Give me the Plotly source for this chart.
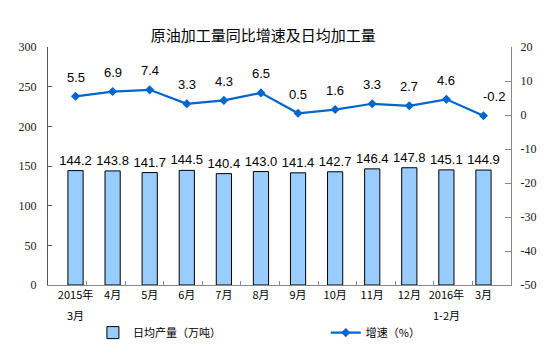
import plotly.graph_objects as go

categories = ["2015年3月", "4月", "5月", "6月", "7月", "8月", "9月", "10月", "11月", "12月", "2016年1-2月", "3月"]
tick_line1 = ["2015年", "4月", "5月", "6月", "7月", "8月", "9月", "10月", "11月", "12月", "2016年", "3月"]
tick_line2 = ["3月", "", "", "", "", "", "", "", "", "", "1-2月", ""]
output = [144.2, 143.8, 141.7, 144.5, 140.4, 143.0, 141.4, 142.7, 146.4, 147.8, 145.1, 144.9]
growth = [5.5, 6.9, 7.4, 3.3, 4.3, 6.5, 0.5, 1.6, 3.3, 2.7, 4.6, -0.2]
left_ticks = [0, 50, 100, 150, 200, 250, 300]
right_ticks = [-50, -40, -30, -20, -10, 0, 10, 20]

lab_font = dict(family="Liberation Sans, Arial", size=13, color="#000000")
tick_font = dict(family="Liberation Serif, Times New Roman", size=12, color="#1a1a1a")
cjk_font = dict(family="Noto Sans CJK SC", size=11, color="#000000")

fig = go.Figure()
fig.add_trace(go.Bar(
    x=categories, y=output, name="日均产量（万吨）",
    marker=dict(color="#99CCFF", line=dict(color="#000000", width=1)),
    width=0.41,
    text=[f"{v:.1f}" for v in output], textposition="outside", constraintext="none",
    textfont=lab_font, cliponaxis=False, legend="legend",
))
fig.add_trace(go.Scatter(
    x=categories, y=growth, name="增速（%）", yaxis="y2",
    mode="lines+markers",
    line=dict(color="#0066CC", width=2.2),
    marker=dict(symbol="diamond", size=7, color="#0066CC"),
    cliponaxis=False, legend="legend2",
))
for i, (c, v) in enumerate(zip(categories, growth)):
    fig.add_annotation(x=c, y=v, xref="x", yref="y2", text=f"{v:.1f}", showarrow=False,
                       yshift=19, xshift=11 if i == len(growth) - 1 else 0, font=lab_font)
for c, t in zip(categories, tick_line2):
    if t:
        fig.add_annotation(x=c, y=-0.126, xref="x", yref="paper", text=t, showarrow=False,
                           yanchor="middle", font=cjk_font)

fig.update_layout(
    width=554, height=353,
    margin=dict(l=48, r=43, t=47, b=68, autoexpand=False),
    paper_bgcolor="white", plot_bgcolor="white",
    title=dict(text="原油加工量同比增速及日均加工量", x=0.475, xanchor="center", y=0.9, yanchor="middle",
               font=dict(family="Noto Sans CJK SC", size=15, color="#000000")),
    showlegend=True,
    legend=dict(orientation="h", x=0.097, xanchor="left", y=-0.2, yanchor="middle",
                font=cjk_font, bgcolor="rgba(0,0,0,0)"),
    legend2=dict(orientation="h", x=0.600, xanchor="left", y=-0.2, yanchor="middle",
                 font=cjk_font, bgcolor="rgba(0,0,0,0)"),
    xaxis=dict(showline=True, linecolor="#888888", linewidth=1, mirror=False, automargin=False,
               tickvals=categories, ticktext=tick_line1,
               ticks="", tickfont=cjk_font, showgrid=False),
    yaxis=dict(range=[0, 300], tickvals=left_ticks, showline=True, linecolor="#555555", linewidth=1,
               ticks="inside", ticklen=4, tickcolor="#555555", showgrid=False, zeroline=False,
               tickfont=tick_font, automargin=False, ticklabelstandoff=8),
    yaxis2=dict(range=[-50, 20], tickvals=right_ticks, ticktext=[str(t) for t in right_ticks],
                overlaying="y", side="right",
                showline=True, linecolor="#888888", linewidth=1, automargin=False,
                ticks="inside", ticklen=6, tickcolor="#888888", showgrid=False, zeroline=False,
                tickfont=tick_font, ticklabelstandoff=6),
    xaxis2=dict(overlaying="x", range=[0, 12], tickvals=list(range(1, 12)), ticks="inside",
                ticklen=4, tickcolor="#888888", showticklabels=False, showgrid=False,
                zeroline=False, side="bottom", anchor="y", automargin=False),
)
fig.add_trace(go.Scatter(x=[0], y=[0], xaxis="x2", mode="markers", marker=dict(opacity=0),
                         showlegend=False, hoverinfo="skip"))
fig.write_html("out.html")
